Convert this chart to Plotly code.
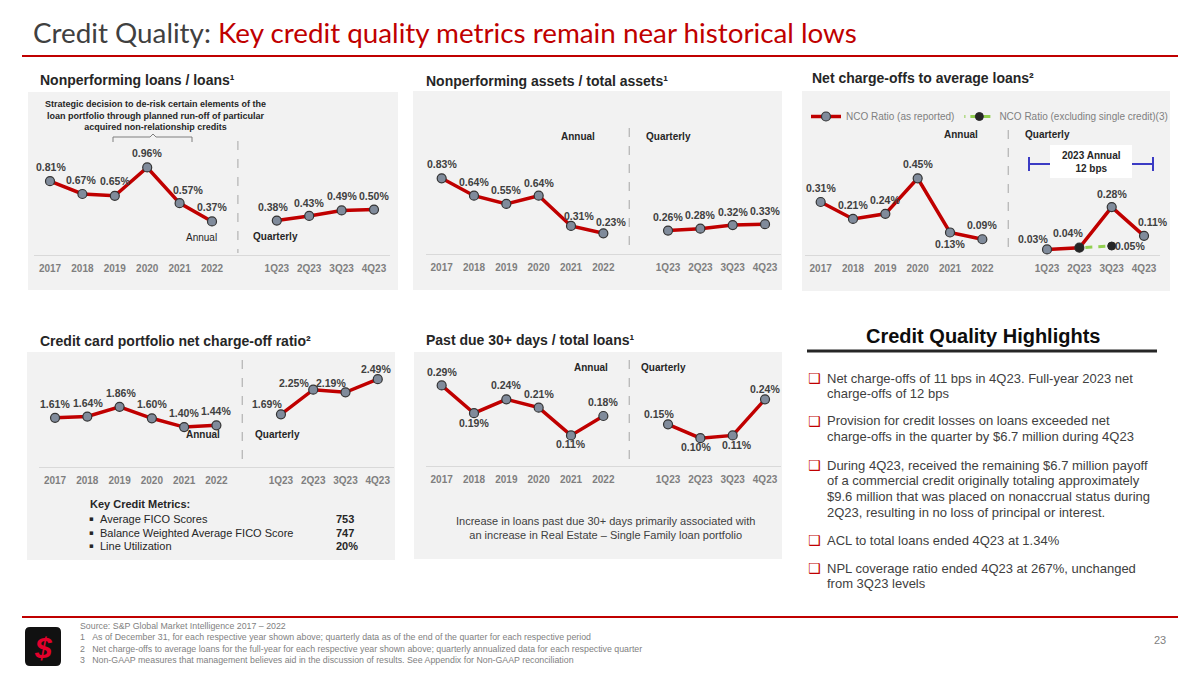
import plotly.graph_objects as go

# slide canvas in pixels, everything below is placed on it
W, H = 1200, 675

# ---- data ----
years = ['2017', '2018', '2019', '2020', '2021', '2022']
quarters = ['1Q23', '2Q23', '3Q23', '4Q23']

# Nonperforming loans / loans
npl_annual = [0.81, 0.67, 0.65, 0.96, 0.57, 0.37]
npl_quarterly = [0.38, 0.43, 0.49, 0.50]

# Nonperforming assets / total assets
npa_annual = [0.83, 0.64, 0.55, 0.64, 0.31, 0.23]
npa_quarterly = [0.26, 0.28, 0.32, 0.33]

# Net charge-offs to average loans
nco_annual = [0.31, 0.21, 0.24, 0.45, 0.13, 0.09]
nco_quarterly = [0.03, 0.04, 0.28, 0.11]
nco_excl_x = ['2Q23', '3Q23']
nco_excl = [0.04, 0.05]

# Credit card portfolio net charge-off ratio
cc_annual = [1.61, 1.64, 1.86, 1.60, 1.40, 1.44]
cc_quarterly = [1.69, 2.25, 2.19, 2.49]

# Past due 30+ days / total loans
pd_annual = [0.29, 0.19, 0.24, 0.21, 0.11, 0.18]
pd_quarterly = [0.15, 0.10, 0.11, 0.24]

kcm_labels = ['Average FICO Scores', 'Balance Weighted Average FICO Score', 'Line Utilization']
kcm_values = ['753', '747', '20%']

highlights = [
    ['Net charge-offs of 11 bps in 4Q23. Full-year 2023 net', 'charge-offs of 12 bps'],
    ['Provision for credit losses on loans exceeded net', 'charge-offs in the quarter by $6.7 million during 4Q23'],
    ['During 4Q23, received the remaining $6.7 million payoff',
     'of a commercial credit originally totaling approximately',
     '$9.6 million that was placed on nonaccrual status during',
     '2Q23, resulting in no loss of principal or interest.'],
    ['ACL to total loans ended 4Q23 at 1.34%'],
    ['NPL coverage ratio ended 4Q23 at 267%, unchanged', 'from 3Q23 levels'],
]

footnotes = [
    'Source: S&P Global Market Intelligence 2017 \u2013 2022',
    '1\u00a0\u00a0\u00a0As of December 31, for each respective year shown above; quarterly data as of the end of the quarter for each respective period',
    '2\u00a0\u00a0\u00a0Net charge-offs to average loans for the full-year for each respective year shown above; quarterly annualized data for each respective quarter',
    '3\u00a0\u00a0\u00a0Non-GAAP measures that management believes aid in the discussion of results. See Appendix for Non-GAAP reconciliation',
]

RED = '#C00000'
DARK = '#404040'
GRAY = '#7F7F7F'
PANEL = '#F2F2F2'
FONT = 'Liberation Sans, Arial, sans-serif'

cats = years + [' '] + quarters


def px(x):
    return x / W


def py(y):
    return 1 - y / H


# panel layout: boxes / plot areas in slide pixels, label nudges in pixels (dx, dy)
panels = [
    dict(title='Nonperforming loans / loans\u00b9', title_xy=(38, 80), box=(28, 92, 398, 290),
         xdom=(33.8, 390.2), ydom=(140, 255.3), yrange=(0, 1.26),
         annual=npl_annual, quarterly=npl_quarterly, div=(141, 253),
         ann_xy=(201, 238), q_xy=(275, 236),
         offs=[(1, -14), (-1, -14), (0, -15), (0, -14), (8, -13), (0, -14),
               (-4, -14), (0, -13), (0, -14), (0, -14)]),
    dict(title='Nonperforming assets / total assets\u00b9', title_xy=(424, 81), box=(413, 91, 782, 290),
         xdom=(425.5, 781.2), ydom=(140, 254.4), yrange=(0, 1.2475),
         annual=npa_annual, quarterly=npa_quarterly, div=(128, 253),
         ann_xy=(578, 136), q_xy=(668, 136),
         offs=[(0, -14), (0, -14), (0, -14), (0, -13), (8, -10), (8, -11),
               (0, -14), (0, -14), (0, -13), (0, -13)]),
    dict(title='Net charge-offs to average loans\u00b2', title_xy=(810, 78), box=(802, 91, 1170, 291),
         xdom=(804.5, 1160.2), ydom=(140, 254.5), yrange=(0, 0.676),
         annual=nco_annual, quarterly=nco_quarterly, div=(130, 255),
         ann_xy=(961, 134), q_xy=(1047, 135),
         offs=[(0, -14), (0, -14), (0, -14), (0, -14), (0, 12), (0, -14),
               (-14, -10), (-11, -15), (0, -13), (9, -14)]),
    dict(title='Credit card portfolio net charge-off ratio\u00b2', title_xy=(38, 341), box=(27, 352, 395, 560),
         xdom=(38.9, 393.9), ydom=(360, 466.7), yrange=(0.5, 2.925),
         annual=cc_annual, quarterly=cc_quarterly, div=(360, 467),
         ann_xy=(203, 434), q_xy=(277, 434),
         offs=[(0, -14), (1, -14), (1, -14), (0, -14), (0, -14), (0, -14),
               (-14, -10), (-19, -7), (-14, -9), (-2, -10)]),
    dict(title='Past due 30+ days / total loans\u00b9', title_xy=(424, 340), box=(414, 352, 782, 559),
         xdom=(425.5, 781.2), ydom=(360, 466), yrange=(0, 0.3816),
         annual=pd_annual, quarterly=pd_quarterly, div=(360, 466),
         ann_xy=(591, 367), q_xy=(663, 367),
         offs=[(0, -13), (0, 10), (0, -14), (0, -14), (0, 9), (0, -14),
               (-9, -10), (-4, 9), (4, 10), (0, -10)]),
]

fig = go.Figure()


def note(x, y, text, size=10, color=DARK, xanchor='center', yanchor='middle', align='center', family=FONT):
    fig.add_annotation(x=px(x), y=py(y), xref='paper', yref='paper', text=text, showarrow=False,
                       xanchor=xanchor, yanchor=yanchor, align=align,
                       font=dict(family=family, size=size, color=color))


def rect(x0, y0, x1, y1, fill, layer='below'):
    fig.add_shape(type='rect', xref='paper', yref='paper', x0=px(x0), x1=px(x1), y0=py(y0), y1=py(y1),
                  fillcolor=fill, line=dict(width=0), layer=layer)


def hline(x0, x1, y, color, width=1, dash='solid', layer='above'):
    fig.add_shape(type='line', xref='paper', yref='paper', x0=px(x0), x1=px(x1), y0=py(y), y1=py(y),
                  line=dict(color=color, width=width, dash=dash), layer=layer)


def vline(x, y0, y1, color, width=1):
    fig.add_shape(type='line', xref='paper', yref='paper', x0=px(x), x1=px(x), y0=py(y0), y1=py(y1),
                  line=dict(color=color, width=width))


marker_style = dict(size=9, color='#808B9B', line=dict(color='#333333', width=1.2))

for i, p in enumerate(panels):
    n = i + 1
    xa = 'x' if n == 1 else f'x{n}'
    ya = 'y' if n == 1 else f'y{n}'

    rect(*p['box'], PANEL)
    note(p['title_xy'][0], p['title_xy'][1], '<b>' + p['title'] + '</b>', size=14, color='#262626',
         xanchor='left')

    # annual and quarterly lines are separate traces so they don't join across the divider
    fig.add_trace(go.Scatter(x=years, y=p['annual'], xaxis=xa, yaxis=ya, mode='lines+markers',
                             line=dict(color=RED, width=3.5), marker=marker_style,
                             name='NCO Ratio (as reported)', showlegend=(n == 3), cliponaxis=False,
                             hovertemplate='%{x}: %{y:.2f}%<extra></extra>'))
    fig.add_trace(go.Scatter(x=quarters, y=p['quarterly'], xaxis=xa, yaxis=ya, mode='lines+markers',
                             line=dict(color=RED, width=3.5), marker=marker_style,
                             showlegend=False, cliponaxis=False,
                             hovertemplate='%{x}: %{y:.2f}%<extra></extra>'))

    # value labels (annotation x given as category index, '2017' would be read as a number)
    for cat, v, (dx, dy) in zip(years + quarters, p['annual'] + p['quarterly'], p['offs']):
        fig.add_annotation(x=cats.index(cat), y=v, xref=xa, yref=ya, text=f'<b>{v:.2f}%</b>', showarrow=False,
                           xshift=dx, yshift=-dy, font=dict(family=FONT, size=10.5, color=DARK))

    # dashed divider between annual and quarterly
    fig.add_shape(type='line', xref=xa, yref='paper', x0=5.8, x1=5.8, y0=py(p['div'][0]), y1=py(p['div'][1]),
                  line=dict(color='#A6A6A6', width=1, dash='dash'))

    note(p['ann_xy'][0], p['ann_xy'][1], 'Annual' if n == 1 else '<b>Annual</b>', size=10, color='#262626')
    note(p['q_xy'][0], p['q_xy'][1], '<b>Quarterly</b>', size=10, color='#262626')

    fig.update_layout({
        f'xaxis{"" if n == 1 else n}': dict(
            type='category', categoryorder='array', categoryarray=cats, anchor=ya,
            domain=[px(p['xdom'][0]), px(p['xdom'][1])], range=[-0.5, 10.5],
            showline=True, linecolor='#D9D9D9', linewidth=1, showgrid=False, zeroline=False,
            ticks='outside', ticklen=4, tickcolor='rgba(0,0,0,0)',
            tickfont=dict(family=FONT, size=10, color=GRAY, weight='bold'), fixedrange=True),
        f'yaxis{"" if n == 1 else n}': dict(
            anchor=xa, domain=[py(p['ydom'][1]), py(p['ydom'][0])], range=list(p['yrange']),
            visible=False, fixedrange=True),
    })

# NCO excluding single credit (dashed green), dash pattern keeps the dashes clear of the end markers
fig.add_trace(go.Scatter(x=nco_excl_x, y=nco_excl, xaxis='x3', yaxis='y3', mode='lines+markers',
                         line=dict(color='#92D050', width=3, dash='1px,5px,7px,6px,7px,6px'),
                         marker=dict(size=8, color='#262626', line=dict(color='#262626', width=1)),
                         name='NCO Ratio (excluding single credit)(3)', cliponaxis=False,
                         hovertemplate='%{x}: %{y:.2f}%<extra></extra>'))
fig.add_annotation(x=cats.index(nco_excl_x[-1]), y=nco_excl[-1], xref='x3', yref='y3',
                   text=f'<b>{nco_excl[-1]:.2f}%</b>', showarrow=False, xshift=18,
                   font=dict(family=FONT, size=10.5, color=DARK))

# 2023 annual callout with blue bracket
rect(1050, 145, 1132, 178, 'white', layer='above')
note(1091, 162, '<b>2023 Annual<br>12 bps</b>', size=10, color='#262626')
BLUE = '#3B3BC4'
hline(1029, 1050, 164, BLUE, width=2)
hline(1132, 1153, 164, BLUE, width=2)
vline(1029, 157, 171, BLUE, width=2)
vline(1153, 157, 171, BLUE, width=2)

# de-risk note and bracket on first panel
note(155, 115, '<b>Strategic decision to de-risk certain elements of the<br>loan portfolio through planned run-off of '
               'particular<br>acquired non-relationship credits</b>', size=9, color='#262626')
fig.add_shape(type='path', xref='paper', yref='paper',
              path=f'M {px(113)},{py(142)} L {px(113)},{py(137)} L {px(150)},{py(137)} L {px(153)},{py(134)} '
                   f'L {px(156)},{py(137)} L {px(192)},{py(137)} L {px(192)},{py(142)}',
              line=dict(color='#7F7F7F', width=1))

# key credit metrics under the credit card chart
note(88, 504, '<b>Key Credit Metrics:</b>', size=11, color='#262626', xanchor='left')
for j, (lab, val) in enumerate(zip(kcm_labels, kcm_values)):
    yy = 519 + j * 13.5
    note(87, yy, '\u25aa', size=7, color='#262626', xanchor='left', family='DejaVu Sans')
    note(98, yy, lab, size=11, color='#262626', xanchor='left')
    note(334, yy, '<b>' + val + '</b>', size=11, color='#262626', xanchor='left')

note(605, 528, 'Increase in loans past due 30+ days primarily associated with<br>'
               'an increase in Real Estate \u2013 Single Family loan portfolio', size=11, color=DARK)

# ---- right column: highlights ----
note(983, 336, '<b>Credit Quality Highlights</b>', size=20, color='#0D0D0D')
hline(807, 1157, 351, '#262626', width=3)
first_lines = [378, 421, 465, 540, 568]
for y0, lines in zip(first_lines, highlights):
    note(814, y0, '<b>\u2751</b>', size=14, color=RED, family='DejaVu Sans')
    for k, line in enumerate(lines):
        note(825, y0 + k * 15.7, line, size=13, color=DARK, xanchor='left')

# ---- slide chrome ----
note(31, 32, 'Credit Quality: <span style="color:#C00000">Key credit quality metrics remain near historical lows</span>',
     size=27.8, color='#404040', xanchor='left', family='Lato, Carlito, Calibri, sans-serif')
hline(22, 1178, 56, RED, width=2)
hline(22, 1178, 617, RED, width=2)

note(78, 619, '<br>'.join(footnotes), size=8.8, color=GRAY, xanchor='left', yanchor='top', align='left')
note(1160, 640, '23', size=11, color=GRAY)

# logo
fig.add_shape(type='path', xref='paper', yref='paper', fillcolor='#111111', line=dict(width=0),
              path=f'M {px(30)},{py(627)} L {px(56)},{py(627)} Q {px(61)},{py(627)} {px(61)},{py(632)} '
                   f'L {px(61)},{py(661)} Q {px(61)},{py(666)} {px(56)},{py(666)} L {px(30)},{py(666)} '
                   f'Q {px(25)},{py(666)} {px(25)},{py(661)} L {px(25)},{py(632)} Q {px(25)},{py(627)} {px(30)},{py(627)} Z')
note(43, 647, '<b><i>$</i></b>', size=30, color='#E4002B')

fig.update_layout(
    width=W, height=H, margin=dict(l=0, r=0, t=0, b=0),
    paper_bgcolor='white', plot_bgcolor='rgba(0,0,0,0)',
    legend=dict(orientation='h', x=px(806), y=py(102), xanchor='left', yanchor='top',
                bgcolor='rgba(0,0,0,0)', font=dict(family=FONT, size=10, color=GRAY),
                itemclick=False, itemdoubleclick=False),
)

# drop the browser's default body margin so the slide sits at the top-left corner
fig.write_html("out.html", config={'displayModeBar': False},
               post_script="document.body.style.margin = '0';")
